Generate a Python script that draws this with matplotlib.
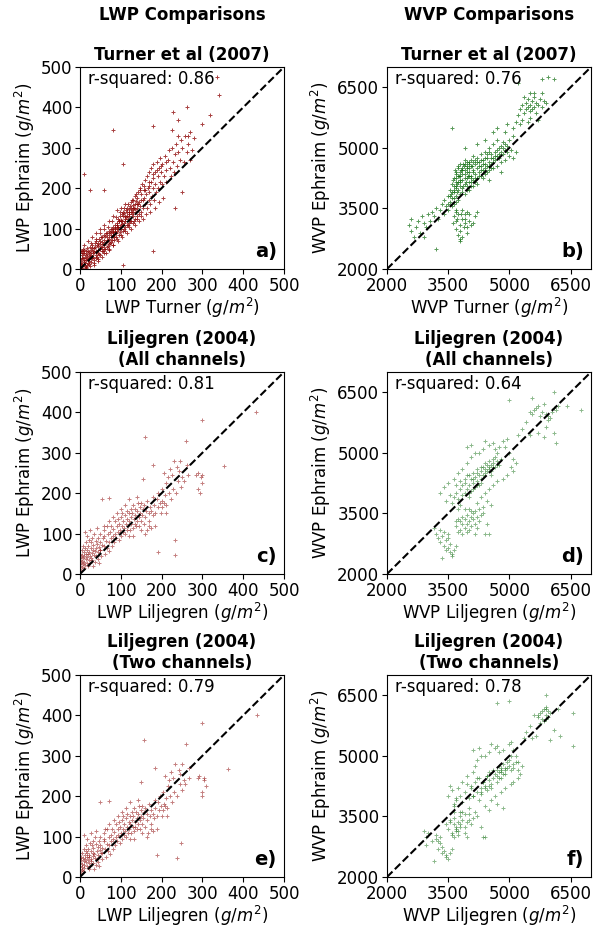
import matplotlib.pyplot as plt
import numpy as np

# ---- LWP: Turner et al (2007) vs Ephraim ----
turner_lwp = [2, 3, 4, 5, 6, 8, 8, 10, 10, 12,
              12, 14, 15, 16, 18, 18, 20, 20, 22, 24,
              25, 26, 28, 28, 30, 30, 32, 34, 35, 36,
              38, 40, 40, 42, 44, 45, 46, 48, 50, 50,
              52, 54, 55, 56, 58, 60, 60, 62, 63, 65,
              66, 68, 70, 70, 72, 74, 75, 76, 78, 80,
              80, 82, 84, 85, 86, 88, 90, 90, 92, 93,
              95, 96, 98, 100, 100, 102, 104, 105, 106, 108,
              110, 110, 112, 114, 115, 116, 118, 120, 120, 122,
              124, 125, 126, 128, 130, 130, 132, 134, 135, 136,
              138, 140, 140, 142, 144, 145, 146, 148, 150, 150,
              152, 154, 155, 156, 158, 160, 160, 162, 164, 165,
              166, 168, 170, 170, 172, 174, 175, 176, 178, 180,
              180, 182, 184, 185, 186, 188, 190, 192, 194, 195,
              196, 198, 200, 202, 205, 208, 210, 212, 215, 218,
              220, 222, 225, 228, 230, 232, 235, 238, 240, 245,
              248, 250, 255, 258, 262, 265, 270, 275, 280, 240,
              80, 10, 340, 335, 318, 262, 228, 240, 180, 225,
              105, 60, 25, 105, 180, 232, 250, 300, 265, 270,
              3, 5, 7, 9, 11, 13, 15, 17, 19, 21,
              23, 25, 27, 29, 31, 33, 35, 37, 39, 41,
              43, 45, 47, 49, 51, 53, 55, 57, 59, 61,
              63, 65, 67, 69, 71, 73, 75, 77, 79, 81,
              83, 85, 87, 89, 91, 93, 95, 97, 99, 101,
              103, 105, 107, 109, 111, 113, 115, 117, 119, 121,
              123, 125, 127, 129, 131, 133, 135, 137, 139, 141,
              60, 70, 80, 90, 100, 110, 120, 130, 140, 150,
              20, 30, 40, 50, 60, 70, 80, 90, 100, 110,
              0, 0, 1, 2, 4, 6, 15, 25, 35, 45,
              10, 15, 22, 28, 34, 38, 44, 48, 54, 58,
              64, 68, 72, 78, 82, 88, 92, 98, 104, 108,
              114, 118, 124, 128, 134, 138, 144, 148, 154, 158,
              162, 168, 172, 178, 184, 188, 194, 198, 204, 210,
              160, 170, 150, 140, 130, 120, 110, 100, 90, 80]
ephraim_lwp_t = [5, 20, 35, 45, 12, 28, 50, 18, 40, 8,
                 30, 45, 22, 10, 38, 52, 25, 15, 42, 30,
                 55, 18, 35, 48, 28, 60, 40, 22, 52, 65,
                 35, 45, 70, 30, 58, 40, 75, 50, 62, 35,
                 80, 55, 68, 45, 85, 60, 72, 50, 90, 70,
                 80, 58, 95, 75, 85, 65, 100, 90, 72, 105,
                 85, 95, 78, 110, 100, 88, 115, 95, 125, 105,
                 85, 118, 130, 110, 100, 135, 120, 95, 140, 115,
                 125, 105, 145, 130, 110, 150, 125, 135, 115, 155,
                 140, 120, 165, 145, 130, 170, 150, 125, 180, 160,
                 140, 175, 150, 190, 135, 165, 200, 155, 185, 140,
                 210, 170, 150, 195, 175, 220, 160, 185, 150, 230,
                 200, 170, 240, 190, 160, 215, 250, 180, 225, 200,
                 260, 170, 240, 210, 190, 265, 230, 200, 250, 215,
                 275, 240, 210, 260, 230, 280, 245, 215, 270, 295,
                 250, 230, 300, 265, 240, 285, 310, 255, 290, 270,
                 320, 300, 265, 330, 290, 310, 340, 295, 325, 330,
                 345, 235, 430, 475, 380, 400, 388, 370, 355, 345,
                 260, 195, 195, 10, 45, 150, 190, 360, 330, 270,
                 10, 28, 40, 22, 48, 15, 35, 27, 45, 33,
                 20, 40, 28, 52, 45, 30, 42, 55, 28, 60,
                 48, 65, 38, 70, 55, 45, 78, 62, 50, 82,
                 68, 55, 88, 72, 62, 92, 78, 68, 98, 82,
                 72, 102, 92, 80, 108, 98, 118, 105, 92, 122,
                 112, 130, 100, 138, 118, 128, 140, 108, 148, 130,
                 118, 150, 135, 158, 140, 120, 148, 168, 132, 160,
                 40, 50, 60, 75, 85, 95, 105, 115, 125, 130,
                 70, 80, 90, 100, 110, 120, 130, 145, 150, 160,
                 40, 25, 15, 45, 8, 3, 2, 8, 15, 25,
                 60, 5, 12, 65, 10, 75, 20, 88, 30, 100,
                 40, 105, 48, 118, 60, 128, 70, 140, 80, 150,
                 90, 160, 100, 170, 108, 185, 118, 195, 125, 205,
                 135, 215, 140, 235, 150, 245, 165, 255, 175, 265,
                 195, 205, 170, 160, 150, 140, 130, 120, 105, 92]

# ---- WVP: Turner et al (2007) vs Ephraim ----
turner_wvp = [2550, 2600, 2700, 2750, 2800, 2850, 2900, 2950, 3000, 3050,
              3100, 3150, 3200, 3200, 3250, 3300, 3350, 3400, 3400, 3450,
              3500, 3500, 3550, 3550, 3600, 3600, 3600, 3650, 3650, 3650,
              3700, 3700, 3700, 3750, 3750, 3750, 3800, 3800, 3800, 3850,
              3850, 3850, 3900, 3900, 3900, 3950, 3950, 3950, 4000, 4000,
              4000, 4050, 4050, 4050, 4100, 4100, 4100, 4150, 4150, 4200,
              4200, 4200, 4250, 4250, 4300, 4300, 4300, 4350, 4350, 4400,
              4400, 4400, 4450, 4450, 4500, 4500, 4500, 4550, 4550, 4600,
              4600, 4600, 4650, 4650, 4700, 4700, 4700, 4750, 4750, 4800,
              4800, 4850, 4850, 4900, 4900, 4950, 5000, 5000, 5050, 5100,
              5100, 4600, 4700, 4400, 4200, 3900, 5150, 4900, 4500, 4800,
              3620, 3680, 3720, 3760, 3820, 3860, 3920, 3960, 3680, 3740,
              3780, 3840, 3880, 3940, 3980, 4020, 4060, 4120, 4160, 3640,
              3700, 3800, 3900, 4000, 4080, 3580, 3660, 3720, 3860, 3960,
              3650, 3700, 3700, 3750, 3750, 3800, 3800, 3850, 3850, 3900,
              3900, 3950, 3950, 4000, 4000, 4050, 3680, 3780, 3880, 3720,
              3620, 3820, 3920, 4100, 4150, 3960, 3800, 3700, 3850, 4200,
              5200, 5250, 5300, 5350, 5400, 5400, 5450, 5450, 5500, 5500,
              5550, 5550, 5600, 5600, 5650, 5650, 5700, 5750, 5800, 5850,
              5300, 5500, 5700, 5900, 5350, 5600, 5800, 5450, 5250, 5150,
              5800, 5950, 6100, 5200, 5500, 2900, 2600, 2650, 5100, 4950,
              3500, 3550, 3600, 3650, 3700, 3750, 3800, 3850, 3900, 3950,
              4000, 4050, 4100, 4150, 4200, 4250, 4300, 4350, 4400, 4450,
              4500, 4550, 4600, 4650, 4700, 4750, 4800, 4850, 4900, 4950,
              3600, 3650, 3700, 3750, 3800, 3850, 3900, 3950, 4000, 4050,
              4100, 4150, 4200, 4250, 4300, 4350, 4400, 4450, 4500, 4550]
ephraim_wvp_t = [3100, 2950, 3050, 3200, 2900, 3300, 3150, 3050, 3350, 3200,
                 3400, 3300, 3500, 2500, 3250, 3450, 3600, 3350, 3700, 3550,
                 3800, 3450, 3650, 3950, 3750, 4100, 5500, 3900, 4250, 3600,
                 4000, 4400, 3800, 4150, 4550, 3950, 4300, 4050, 4600, 4200,
                 3900, 4450, 4350, 4100, 4700, 4250, 4500, 3950, 4400, 4150,
                 4650, 4300, 4550, 4050, 4450, 4200, 4800, 4350, 4600, 4500,
                 4250, 4750, 4400, 4650, 4550, 4300, 4850, 4450, 4700, 4600,
                 4350, 4900, 4550, 4750, 4650, 4450, 5000, 4600, 4850, 4750,
                 4500, 5100, 4700, 4900, 4800, 4550, 5200, 4750, 5000, 4900,
                 4650, 4850, 5150, 4950, 4700, 5050, 4800, 5200, 4950, 4750,
                 5300, 5400, 5500, 5200, 5100, 5000, 4900, 5400, 4200, 4400,
                 4200, 4350, 4100, 4300, 4450, 4050, 4250, 4400, 4050, 4500,
                 4200, 4350, 4550, 4150, 4300, 4500, 4250, 4400, 4150, 3950,
                 4250, 4150, 4450, 4300, 4550, 3850, 4450, 3900, 4600, 4550,
                 3300, 3200, 3000, 3350, 2850, 3100, 2950, 3250, 2800, 3150,
                 3350, 3050, 2900, 3200, 3350, 3100, 3400, 2750, 3050, 3250,
                 3150, 3350, 3250, 3150, 3300, 3400, 2700, 3450, 3450, 3400,
                 5800, 5950, 6050, 5850, 6100, 5950, 6000, 6200, 5900, 6050,
                 6150, 5950, 6000, 6250, 6100, 5850, 6050, 6200, 6000, 6150,
                 5700, 5750, 5700, 6100, 6250, 6350, 6350, 5650, 5600, 5650,
                 6700, 6750, 6700, 6600, 6350, 2800, 3250, 2800, 5500, 5600,
                 3600, 3800, 3900, 4050, 4150, 4300, 4400, 4500, 4600, 4650,
                 4600, 4700, 4650, 4700, 4650, 4550, 4700, 4600, 4750, 4850,
                 4900, 4750, 4650, 4800, 4950, 4850, 5050, 5000, 5100, 4900,
                 3550, 3750, 3650, 3700, 3850, 4000, 3850, 4050, 3950, 4150,
                 4050, 4250, 4100, 4300, 4450, 4250, 4500, 4400, 4550, 4500]

# ---- LWP: Liljegren (2004), all channels / two channels vs Ephraim ----
lil_all_lwp = [0, 0, 0, 2, 2, 3, 4, 5, 5, 6,
               7, 8, 8, 9, 10, 10, 11, 12, 12, 13,
               14, 15, 15, 16, 17, 18, 18, 19, 20, 20,
               21, 22, 23, 24, 25, 25, 26, 27, 28, 29,
               30, 30, 31, 32, 33, 34, 35, 36, 37, 38,
               40, 40, 41, 42, 43, 44, 45, 46, 47, 48,
               50, 50, 52, 53, 55, 56, 58, 60, 60, 62,
               63, 65, 66, 68, 70, 70, 72, 74, 75, 76,
               78, 80, 82, 84, 85, 86, 88, 90, 92, 94,
               95, 96, 98, 100, 100, 102, 104, 105, 106, 108,
               110, 110, 112, 114, 115, 116, 118, 120, 120, 122,
               124, 125, 126, 128, 130, 130, 132, 134, 135, 136,
               138, 140, 140, 142, 144, 145, 146, 148, 150, 150,
               152, 154, 155, 156, 158, 160, 160, 162, 164, 165,
               168, 170, 172, 175, 178, 180, 180, 182, 185, 188,
               190, 190, 192, 195, 198, 200, 202, 205, 208, 210,
               212, 215, 218, 220, 222, 225, 228, 230, 232, 234,
               235, 238, 240, 242, 245, 248, 250, 255, 260, 262,
               265, 285, 288, 290, 295, 296, 298, 300, 300, 352,
               432, 60, 80, 90, 70, 110, 120, 140, 100, 130,
               150, 170, 160, 175, 120, 205, 210, 200, 185, 50]
lil_two_lwp = [1, 0, 2, 3, 1, 2, 5, 6, 4, 8,
               6, 10, 9, 8, 12, 11, 13, 10, 10, 15,
               15, 17, 14, 18, 16, 20, 17, 21, 22, 19,
               23, 24, 22, 26, 27, 24, 28, 26, 30, 31,
               32, 31, 33, 34, 32, 36, 37, 35, 39, 40,
               42, 41, 40, 44, 45, 43, 47, 48, 46, 50,
               52, 48, 54, 55, 50, 58, 60, 62, 58, 64,
               65, 67, 68, 70, 70, 72, 74, 76, 77, 78,
               80, 82, 84, 86, 88, 88, 90, 92, 94, 96,
               98, 98, 100, 103, 102, 105, 106, 108, 109, 110,
               113, 112, 115, 116, 118, 119, 120, 123, 122, 125,
               127, 128, 129, 130, 133, 132, 135, 136, 138, 139,
               140, 143, 142, 145, 147, 147, 149, 150, 153, 152,
               155, 157, 150, 159, 160, 163, 158, 165, 167, 168,
               171, 173, 175, 178, 181, 183, 185, 185, 188, 191,
               188, 193, 196, 198, 201, 204, 205, 208, 211, 213,
               216, 219, 221, 224, 225, 229, 231, 233, 237, 248,
               238, 242, 244, 246, 249, 251, 254, 258, 260, 266,
               268, 288, 300, 292, 298, 305, 298, 304, 308, 363,
               435, 62, 83, 93, 72, 113, 123, 143, 103, 133,
               153, 173, 163, 178, 123, 208, 213, 203, 188, 53]
ephraim_lwp_l = [20, 35, 50, 10, 28, 42, 60, 18, 33, 48,
                 25, 70, 40, 15, 55, 30, 45, 22, 105, 65,
                 38, 50, 80, 28, 60, 42, 95, 20, 50, 70,
                 35, 85, 55, 45, 110, 28, 65, 40, 78, 52,
                 35, 90, 60, 20, 72, 48, 100, 58, 30, 82,
                 65, 45, 115, 75, 38, 55, 90, 68, 28, 80,
                 60, 100, 45, 72, 185, 88, 110, 70, 95, 50,
                 82, 120, 65, 100, 188, 78, 58, 105, 88, 120,
                 70, 95, 112, 80, 130, 100, 90, 118, 105, 135,
                 85, 125, 110, 140, 95, 120, 150, 105, 130, 115,
                 145, 100, 125, 155, 110, 135, 120, 150, 130, 110,
                 160, 140, 125, 150, 115, 170, 135, 125, 160, 145,
                 118, 155, 130, 175, 140, 120, 165, 150, 130, 175,
                 145, 160, 235, 125, 170, 140, 340, 155, 110, 180,
                 150, 130, 165, 155, 145, 190, 270, 170, 150, 185,
                 55, 165, 200, 175, 150, 210, 180, 250, 195, 170,
                 225, 240, 200, 260, 185, 245, 210, 280, 47, 85,
                 200, 265, 230, 255, 280, 215, 240, 230, 328, 270,
                 245, 245, 210, 250, 200, 240, 380, 245, 225, 268,
                 400, 120, 140, 150, 130, 170, 185, 190, 160, 95,
                 110, 120, 100, 115, 95, 175, 150, 165, 120, 60]

# ---- WVP: Liljegren (2004), all channels / two channels vs Ephraim ----
lil_all_wvp = [3250, 3300, 3350, 3400, 3450, 3500, 3550, 3600, 3350, 3600,
               3450, 3500, 3300, 3400, 3550, 3650, 3150, 3700, 3200, 3500,
               3700, 3750, 3800, 3800, 3850, 3850, 3900, 3900, 3950, 3950,
               4000, 4000, 4050, 4050, 4100, 4100, 4150, 4200, 4200, 4250,
               3750, 3700, 3850, 3950, 4050, 4150, 4300, 4350, 4400, 4500,
               4150, 4000, 3900, 4250, 4450,
               3600, 3650, 3700, 3700, 3750, 3800, 3800, 3850, 3850, 3900,
               3900, 3950, 3950, 4000, 4000, 4050, 4050, 4100, 4100, 4150,
               4150, 4200, 4200, 4250, 4250, 4300, 4300, 4350, 4350, 4400,
               4400, 4450, 4450, 4500, 4500, 4550, 4550, 4600, 4600, 4650,
               4650, 4700, 4700, 4750, 4800, 3400, 3450, 3300, 3500, 3550,
               3650, 3750, 3850, 3950, 4050, 4150, 4050, 3950, 4250, 4350,
               4400, 4500, 4600, 4650, 4750, 4850, 4950, 4900, 5000, 5100,
               5050, 5100, 5150, 4950, 4850, 4700, 4600, 4500, 4400, 4300,
               4450, 4550, 4350, 4200, 3800, 3750, 4000, 4100, 4200, 4300,
               3900, 4000, 4100, 4200, 4300, 4400, 4500, 4600, 4700, 4550,
               5300, 5400, 5500, 5550, 5600, 5650, 5700, 5750, 5800, 5850,
               5900, 5950, 6000, 6050, 6100, 6150, 6200, 5950, 5500, 5700,
               5000, 5550, 6100, 6150, 6100, 6750, 6400, 5900, 5850, 5200]
lil_two_wvp = [3100, 2950, 3200, 3250, 3350, 3400, 3450, 3500, 3150, 3450,
               3300, 3300, 3000, 3200, 3350, 3550, 2900, 3600, 2950, 3250,
               3500, 3550, 3600, 3650, 3700, 3550, 3700, 3750, 3800, 3650,
               3800, 3900, 3850, 3700, 3950, 3800, 3900, 4000, 3750, 4050,
               3600, 3450, 3650, 3750, 3900, 4000, 4100, 4200, 4350, 4400,
               3950, 3850, 3650, 4150, 4300,
               3650, 3700, 3800, 3750, 3850, 3900, 3950, 4000, 4050, 4100,
               4150, 4200, 4250, 4300, 4250, 4350, 4300, 4400, 4450, 4450,
               4500, 4550, 4500, 4600, 4550, 4650, 4700, 4700, 4750, 4800,
               4750, 4850, 4800, 4900, 4850, 4950, 4900, 5000, 4950, 5050,
               5000, 5100, 5050, 5100, 5150, 3600, 3650, 3500, 3550, 3700,
               3850, 3950, 4100, 4150, 4200, 4300, 4250, 4100, 4400, 4500,
               4550, 4650, 4700, 4750, 4850, 5000, 5050, 5100, 5150, 5200,
               5200, 5250, 5300, 5200, 5100, 5050, 4900, 4800, 4650, 4550,
               4700, 4850, 4500, 4400, 4000, 3800, 4100, 4300, 4400, 4500,
               4050, 4200, 4350, 4450, 4600, 4700, 4750, 4800, 4900, 4800,
               5400, 5500, 5600, 5700, 5750, 5800, 5850, 5900, 5700, 5900,
               5950, 5800, 5850, 5900, 5950, 6000, 5900, 5750, 5550, 5650,
               4700, 5000, 5900, 6550, 6250, 6550, 6200, 6100, 6000, 5350]
ephraim_wvp_l = [2900, 2800, 2950, 2700, 2600, 2650, 2550, 2450, 2400, 2500,
                 2850, 3000, 3100, 3050, 2750, 2600, 3150, 2700, 3000, 2900,
                 3200, 3350, 3100, 3300, 3250, 3400, 3150, 3350, 3250, 3450,
                 3300, 3100, 3400, 3200, 3350, 3500, 3250, 3400, 3150, 3300,
                 3050, 3300, 3000, 3050, 3550, 3550, 3450, 3500, 3000, 3000,
                 3000, 3600, 3600, 3600, 3250,
                 3750, 3900, 4000, 4200, 3850, 4100, 4300, 3950, 4200, 4000,
                 4350, 4100, 4450, 4200, 3900, 4350, 4050, 4250, 4500, 4150,
                 4400, 4300, 4600, 4450, 4200, 4550, 4350, 4650, 4450, 4600,
                 4750, 4550, 4700, 4650, 4800, 4700, 4550, 4750, 4850, 4650,
                 4900, 4800, 5000, 4700, 4850, 4150, 3800, 4000, 4250, 3950,
                 4350, 4500, 4600, 4750, 4900, 5000, 5200, 5150, 5000, 5100,
                 5300, 5200, 5250, 5100, 5150, 5300, 5350, 5150, 5000, 4850,
                 4650, 4550, 4750, 4450, 4350, 4300, 4200, 4100, 4000, 3900,
                 3800, 3700, 3650, 3750, 3700, 3600, 4000, 4100, 4200, 4250,
                 4250, 4450, 4350, 4500, 4650, 4500, 4600, 4650, 4700, 4450,
                 5600, 5750, 6000, 5950, 6050, 6100, 6150, 5900, 6000, 6200,
                 5950, 5900, 5850, 6000, 6100, 6050, 6150, 5800, 5450, 5500,
                 6300, 6350, 6500, 5250, 5500, 6050, 6150, 5650, 5400, 5450]

lwp_ticks = [0, 100, 200, 300, 400, 500]
wvp_ticks = [2000, 3500, 5000, 6500]
r_squared = ["0.86", "0.76", "0.81", "0.64", "0.79", "0.78"]
row_titles = ["Turner et al (2007)",
              "Liljegren (2004)\n(All channels)",
              "Liljegren (2004)\n(Two channels)"]

fig = plt.figure(figsize=(6.01, 9.27), dpi=100)
fs = 12
lefts = [80 / 601, 387 / 601]
bottoms = [1 - 269 / 927, 1 - 574 / 927, 1 - 877 / 927]
w, h = 204 / 601, 202 / 927

panels = [
    (turner_lwp, ephraim_lwp_t, "LWP Turner", "lwp", 0.75),
    (turner_wvp, ephraim_wvp_t, "WVP Turner", "wvp", 0.65),
    (lil_all_lwp, ephraim_lwp_l, "LWP Liljegren", "lwp", 0.5),
    (lil_all_wvp, ephraim_wvp_l, "WVP Liljegren", "wvp", 0.45),
    (lil_two_lwp, ephraim_lwp_l, "LWP Liljegren", "lwp", 0.5),
    (lil_two_wvp, ephraim_wvp_l, "WVP Liljegren", "wvp", 0.45),
]
letters = "abcdef"

for i, (xs, ys, xlab, kind, alpha) in enumerate(panels):
    row, col = i // 2, i % 2
    ax = fig.add_axes([lefts[col], bottoms[row], w, h])
    if kind == "lwp":
        color = "darkred"
        lim, ticks, name = (0, 500), lwp_ticks, "LWP"
    else:
        color = "darkgreen"
        lim, ticks, name = (2000, 7000), wvp_ticks, "WVP"
    ax.scatter(xs, ys, s=10, marker="+", linewidths=0.7, color=color, alpha=alpha)
    ax.plot(lim, lim, "k--", lw=1.5)
    ax.set_xlim(lim)
    ax.set_ylim(lim)
    ax.set_xticks(ticks)
    ax.set_yticks(ticks)
    ax.tick_params(labelsize=fs, pad=2)
    ax.set_xlabel(xlab + " ($g/m^2$)", fontsize=fs, labelpad=1)
    ax.set_ylabel(name + " Ephraim ($g/m^2$)", fontsize=fs, labelpad=3)
    ax.set_title(row_titles[row], fontsize=fs, fontweight="bold", pad=5)
    ax.text(0.04, 0.94, "r-squared: " + r_squared[i], transform=ax.transAxes,
            fontsize=fs, va="center", ha="left")
    ax.text(0.965, 0.04, letters[i] + ")", transform=ax.transAxes,
            fontsize=14, fontweight="bold", ha="right", va="bottom")

fig.text(lefts[0] + w / 2, 1 - 15 / 927, "LWP Comparisons", ha="center",
         va="center", fontsize=fs, fontweight="bold")
fig.text(lefts[1] + w / 2, 1 - 15 / 927, "WVP Comparisons", ha="center",
         va="center", fontsize=fs, fontweight="bold")

fig.savefig("out.png", dpi=100)
